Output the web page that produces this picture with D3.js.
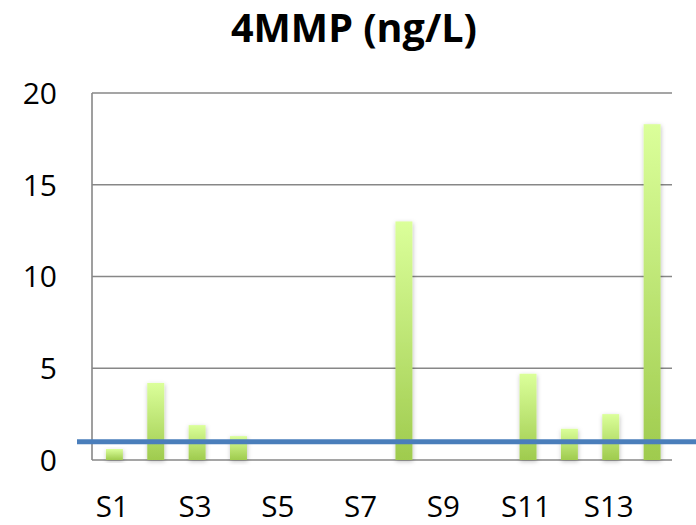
<!DOCTYPE html>
<html>
<head>
<meta charset="utf-8">
<script src="https://cdn.jsdelivr.net/npm/d3@7"></script>
<style>
  html, body { margin: 0; padding: 0; background: #fff; }
  svg { display: block; }
  text { font-family: "Open Sans", "Noto Sans", sans-serif; fill: #000; }
</style>
</head>
<body>
<svg id="chart" width="696" height="525"></svg>
<script>
// Samples and measured 4MMP concentrations (ng/L)
const categories = ["S1","S2","S3","S4","S5","S6","S7","S8","S9","S10","S11","S12","S13","S14"];
const values = [0.6, 4.2, 1.9, 1.3, 0, 0, 0, 13.0, 0, 0, 4.7, 1.7, 2.5, 18.3];
const yTicks = [0, 5, 10, 15, 20];
const xTickLabels = ["S1","S3","S5","S7","S9","S11","S13"];
const threshold = 1.0;   // reference level drawn as a horizontal line
const title = "4MMP (ng/L)";

const svg = d3.select("#chart");
const W = 696, H = 525;
const plot = { left: 92, right: 672, top: 93, bottom: 460 };

const x = d3.scaleBand()
  .domain(categories)
  .range([plot.left + 1.5, plot.right + 1])
  .paddingInner(0.59)
  .paddingOuter(0.3);

const y = d3.scaleLinear()
  .domain([0, 20])
  .range([plot.bottom, plot.top]);

const defs = svg.append("defs");
const grad = defs.append("linearGradient")
  .attr("id", "barFill")
  .attr("x1", 0).attr("y1", 0).attr("x2", 0).attr("y2", 1);
grad.append("stop").attr("offset", "0%").attr("stop-color", "#dbff9a");
grad.append("stop").attr("offset", "100%").attr("stop-color", "#9fcb4e");

const shadow = defs.append("filter")
  .attr("id", "barShadow")
  .attr("x", "-50%").attr("y", "-10%").attr("width", "200%").attr("height", "130%");
shadow.append("feDropShadow")
  .attr("dx", 0.5).attr("dy", 1.5)
  .attr("stdDeviation", 2)
  .attr("flood-color", "#000")
  .attr("flood-opacity", 0.25);

// Title
svg.append("text")
  .attr("x", 354)
  .attr("y", 42)
  .attr("text-anchor", "middle")
  .attr("font-size", 40)
  .attr("font-weight", "bold")
  .attr("textLength", 246)
  .attr("lengthAdjust", "spacingAndGlyphs")
  .text(title);

// Horizontal gridlines
svg.append("g")
  .selectAll("line")
  .data(yTicks.filter(d => d > 0))
  .join("line")
  .attr("x1", plot.left).attr("x2", plot.right)
  .attr("y1", d => y(d)).attr("y2", d => y(d))
  .attr("stroke", "#878787")
  .attr("stroke-width", 1.6);

// Axis frame (left and bottom)
svg.append("line")
  .attr("x1", plot.left).attr("x2", plot.left)
  .attr("y1", y(20)).attr("y2", y(0))
  .attr("stroke", "#878787").attr("stroke-width", 1.6);
svg.append("line")
  .attr("x1", plot.left).attr("x2", plot.right)
  .attr("y1", y(0)).attr("y2", y(0))
  .attr("stroke", "#878787").attr("stroke-width", 1.6);

// Y tick labels
svg.append("g")
  .selectAll("text")
  .data(yTicks)
  .join("text")
  .attr("x", 57)
  .attr("y", d => y(d))
  .attr("dy", "0.36em")
  .attr("text-anchor", "end")
  .attr("font-size", 30)
  .text(d => d);

// Bars
svg.append("g")
  .selectAll("rect")
  .data(categories.map((c, i) => ({ c, v: values[i] })).filter(d => d.v > 0))
  .join("rect")
  .attr("x", d => x(d.c))
  .attr("width", x.bandwidth())
  .attr("y", d => y(d.v))
  .attr("height", d => y(0) - y(d.v))
  .attr("fill", "url(#barFill)")
  .attr("filter", "url(#barShadow)");

// X tick labels (every other sample), centred under their bars
svg.append("g")
  .selectAll("text")
  .data(xTickLabels)
  .join("text")
  .attr("x", d => x(d) + x.bandwidth() / 2 - 2)
  .attr("y", 517)
  .attr("text-anchor", "middle")
  .attr("font-size", 29.5)
  .text(d => d);

// Threshold line across the chart
svg.append("line")
  .attr("x1", 77).attr("x2", W)
  .attr("y1", y(threshold)).attr("y2", y(threshold))
  .attr("stroke", "#4a7ebb")
  .attr("stroke-width", 5);
</script>
</body>
</html>
